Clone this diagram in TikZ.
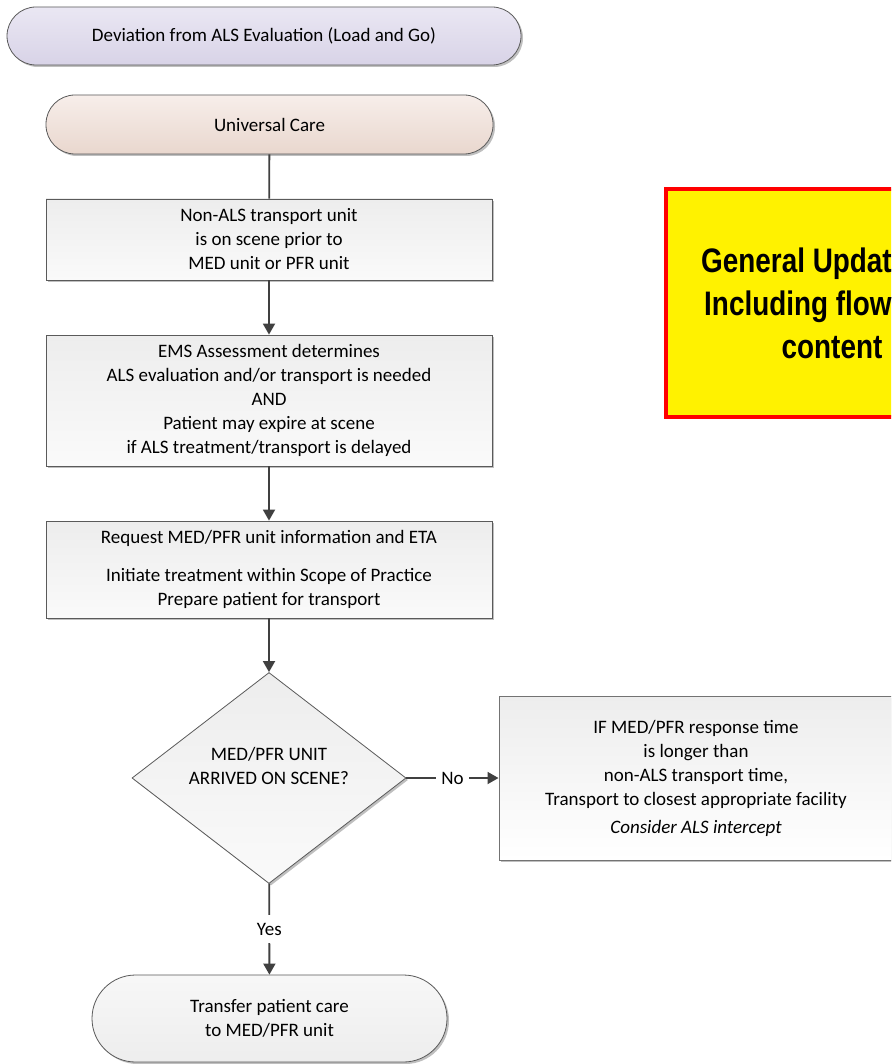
\documentclass[tikz,border=0pt]{standalone}
\usepackage{fontspec}
\setmainfont{Carlito}
\newfontfamily\yfont[FakeStretch=0.82]{Liberation Sans}
\usetikzlibrary{shapes.geometric,arrows.meta,shadows}
\definecolor{lineg}{HTML}{404040}
\definecolor{bordg}{HTML}{5A5A5A}
\definecolor{lavA}{HTML}{EAE7F3}
\definecolor{lavB}{HTML}{D8D3E7}
\definecolor{pchA}{HTML}{F7EEEA}
\definecolor{pchB}{HTML}{E9D7CE}
\definecolor{gryA}{HTML}{EDEDED}
\definecolor{gryB}{HTML}{FAFAFA}
\tikzset{
  shadowed/.style={drop shadow={shadow xshift=2pt,shadow yshift=-2pt,fill=black,opacity=0.25}},
  termbox/.style={rectangle, rounded corners=#1, draw=bordg, line width=0.8pt, shadowed},
  procbox/.style={rectangle, draw=bordg, line width=0.8pt, top color=gryA, bottom color=gryB, shadowed, minimum width=446pt},
  conn/.style={draw=lineg, line width=1.8pt},
  arr/.style={-{Triangle[length=11pt,width=12pt]}},
  lab/.style={fill=white, inner xsep=5pt, inner ysep=6pt}
}
\begin{document}
\begin{tikzpicture}[x=1pt,y=-1pt,
  every node/.style={font=\fontsize{19}{24}\selectfont, align=center, inner sep=0pt}]
\useasboundingbox (0,0) rectangle (891,1064);
\clip (0,0) rectangle (891,1064);
\fill[white] (0,0) rectangle (891,1064);

\node[termbox=29pt, minimum width=514pt, minimum height=58pt, top color=lavA, bottom color=lavB] (title) at (264,36) {Deviation from ALS Evaluation (Load and Go)};

\node[termbox=29pt, minimum width=447pt, minimum height=59pt, top color=pchA, bottom color=pchB] (uc) at (269.5,124.5) {Universal Care};

\node[procbox, minimum height=81pt] (b1) at (269,239.5) {Non-ALS transport unit\\is on scene prior to\\MED unit or PFR unit};

\node[procbox, minimum height=131pt] (b2) at (269,400.5) {EMS Assessment determines\\ALS evaluation and/or transport is needed\\AND\\Patient may expire at scene\\if ALS treatment/transport is delayed};

\node[procbox, minimum height=97pt] (b3) at (269,569.5) {Request MED/PFR unit information and ETA\\[14pt]Initiate treatment within Scope of Practice\\Prepare patient for transport};

\node[diamond, draw=bordg, line width=0.8pt, minimum width=274pt, minimum height=211pt, top color=gryA, bottom color=gryB, shadowed] (dia) at (269,778) {};
\node (dtext) at (269,765.5) {MED/PFR UNIT\\ARRIVED ON SCENE?};

\node[rectangle, draw=black!55, line width=1pt, top color=gryA, bottom color=white, shadowed, minimum width=394pt, minimum height=164pt] (rb) at (696,778) {IF MED/PFR response time\\is longer than\\non-ALS transport time,\\Transport to closest appropriate facility\\[4pt]\textit{Consider ALS intercept}};

\node[termbox=43.5pt, minimum width=355pt, minimum height=87pt, top color=black!3, bottom color=black!7] (bt) at (269.5,1018.5) {Transfer patient care\\to MED/PFR unit};

\node[draw=red, line width=4pt, fill=yellow, minimum width=332pt, minimum height=228pt, font=\yfont\bfseries\fontsize{34}{43}\selectfont] (upd) at (832,303) {General Updates\hspace*{40pt}\\Including flowchart\\content};

\draw[conn] (uc) -- (b1);
\draw[conn, arr] (b1) -- (b2);
\draw[conn, arr] (b2) -- (b3);
\draw[conn, arr] (b3) -- (dia);
\draw[conn, arr] (dia) -- node[lab] (nolab) {No} (rb);
\draw[conn, arr] (dia) -- node[lab, inner ysep=8pt] (yeslab) {Yes} (bt);
\end{tikzpicture}
\end{document}
